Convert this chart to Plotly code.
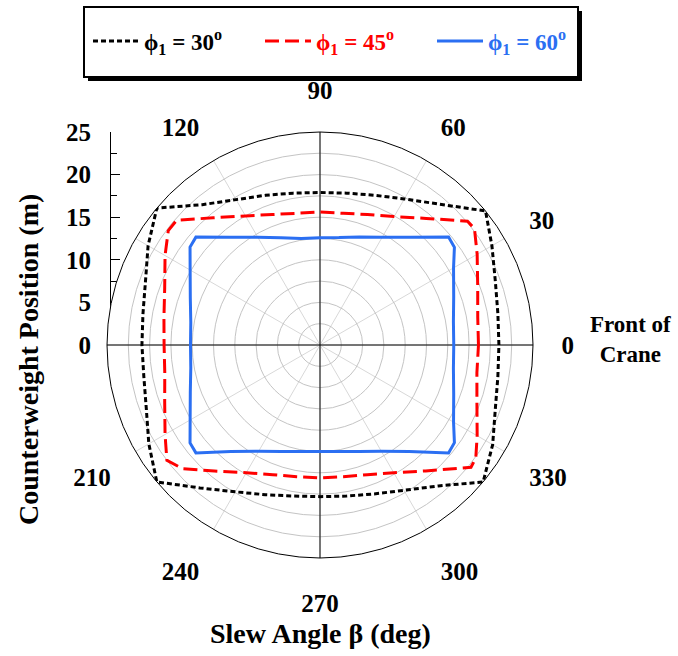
import plotly.graph_objects as go

# Counterweight position (m) versus slew angle (deg) for three boom angles phi_1
theta_30 = [0, 10, 20, 30, 39, 50, 60, 70, 80, 90, 100, 110, 120, 130, 140, 150, 160, 170, 180,
            190, 200, 210, 220, 230, 240, 250, 260, 270, 280, 290, 300, 310, 320, 330, 340, 350, 360]
r_30 = [21.0, 21.2, 21.9, 23.3, 25.0, 21.6, 19.8, 18.7, 18.1, 17.9, 18.1, 18.7, 19.7, 21.5, 25.0,
        23.3, 21.8, 21.1, 20.9, 21.0, 21.7, 23.2, 25.0, 21.9, 19.9, 18.7, 18.0, 17.8, 18.0, 18.6,
        19.7, 21.6, 25.0, 23.4, 21.9, 21.2, 21.0]

theta_45 = [0, 10, 20, 30, 37, 40, 50, 60, 70, 80, 90, 100, 110, 120, 130, 139, 143, 150, 160, 170,
            180, 190, 200, 210, 217, 222, 230, 240, 250, 260, 270, 280, 290, 300, 310, 321, 324, 330,
            340, 350, 360]
r_45 = [18.6, 18.8, 19.7, 21.3, 22.7, 22.6, 19.4, 17.4, 16.3, 15.7, 15.6, 15.7, 16.3, 17.5, 19.5,
        22.3, 22.3, 21.0, 19.4, 18.6, 18.3, 18.5, 19.4, 21.0, 22.5, 21.7, 19.3, 17.3, 16.2, 15.7,
        15.6, 15.7, 16.2, 17.3, 19.3, 22.8, 22.6, 21.3, 19.6, 18.7, 18.6]

theta_60 = [0, 10, 20, 30, 36, 40, 50, 60, 70, 80, 90, 100, 110, 120, 130, 139, 143, 150, 160, 170,
            180, 190, 200, 210, 217, 221, 230, 240, 250, 260, 270, 280, 290, 300, 310, 320, 324, 330,
            340, 350, 360]
r_60 = [15.7, 15.9, 16.7, 18.1, 19.5, 19.7, 16.5, 14.6, 13.5, 12.8, 12.6, 12.7, 13.4, 14.6, 16.5,
        19.3, 19.1, 17.6, 16.2, 15.4, 15.2, 15.4, 16.2, 17.6, 19.1, 19.3, 16.3, 14.4, 13.3, 12.7,
        12.5, 12.7, 13.3, 14.4, 16.3, 19.7, 19.5, 18.1, 16.7, 15.9, 15.7]

angle_ticks = [0, 30, 60, 90, 120, 150, 180, 210, 240, 270, 300, 330]
angle_labels = ["0", "30", "60", "90", "120", "", "", "210", "240", "270", "300", "330"]
r_max = 25

W, H = 678, 656
cx, cy, R = 320, 345, 213          # polar centre and radius in pixels
axis_x = 110                        # left counterweight axis position (px)
FONT = "Liberation Serif"

fig = go.Figure()

# black cross-hair axes through the centre
for th in ([0, 180], [90, 270]):
    fig.add_trace(go.Scatterpolar(theta=th, r=[r_max, r_max], mode="lines",
                                  line=dict(color="black", width=1),
                                  showlegend=False, hoverinfo="skip"))

series = [
    (theta_30, r_30, "black", "5px,3px", "ϕ<sub>1</sub> = 30<sup>o</sup>"),
    (theta_45, r_45, "#ff0000", "14px,6px", "ϕ<sub>1</sub> = 45<sup>o</sup>"),
    (theta_60, r_60, "#2b6ff2", "solid", "ϕ<sub>1</sub> = 60<sup>o</sup>"),
]
for th, rr, col, dash, label in series:
    fig.add_trace(go.Scatterpolar(
        theta=th, r=rr, mode="lines",
        line=dict(color=col, width=3, dash=dash),
        name=f'<span style="color:{col}">{label}</span>'))

# carrier trace for the linear counterweight axis
fig.add_trace(go.Scatter(x=[0], y=[0], mode="markers", marker=dict(opacity=0),
                         showlegend=False, hoverinfo="skip", xaxis="x", yaxis="y"))

fig.update_layout(
    width=W, height=H,
    margin=dict(l=0, r=0, t=0, b=0, autoexpand=False),
    paper_bgcolor="white", plot_bgcolor="rgba(0,0,0,0)",
    font=dict(family=FONT, size=25, color="black", weight="bold"),
    polar=dict(
        domain=dict(x=[(cx - R) / W, (cx + R) / W], y=[1 - (cy + R) / H, 1 - (cy - R) / H]),
        bgcolor="white",
        radialaxis=dict(range=[0, r_max], dtick=2.5, showticklabels=False, ticks="",
                        showline=False, gridcolor="#c4c4c4", gridwidth=1),
        angularaxis=dict(rotation=0, direction="counterclockwise",
                         tickmode="array", tickvals=angle_ticks, ticktext=angle_labels,
                         ticks="outside", ticklen=23, tickcolor="rgba(0,0,0,0)",
                         showline=True, linecolor="black", linewidth=1,
                         gridcolor="#d8d8d8", gridwidth=1,
                         tickfont=dict(family=FONT, size=25, weight="bold")),
    ),
    xaxis=dict(visible=False, domain=[axis_x / W, 0.5], range=[0, 1]),
    yaxis=dict(anchor="free", position=axis_x / W,
               domain=[1 - cy / H, 1 - (cy - R) / H], range=[0, r_max],
               dtick=5, ticks="inside", ticklen=9, tickwidth=1, tickcolor="black",
               minor=dict(ticks="inside", ticklen=6, dtick=2.5, tickcolor="black"),
               showline=True, linecolor="black", linewidth=1,
               showgrid=False, zeroline=False, ticklabelstandoff=14,
               tickfont=dict(family=FONT, size=25, weight="bold")),
    legend=dict(orientation="h", x=88 / W, xanchor="left", y=1 - 41 / H, yanchor="middle",
                bgcolor="rgba(0,0,0,0)", borderwidth=0, entrywidth=111, itemwidth=46,
                font=dict(family=FONT, size=23, weight="bold")),
    shapes=[
        dict(type="rect", xref="paper", yref="paper", layer="below",
             x0=88 / W, x1=582 / W, y0=1 - 81 / H, y1=1 - 11 / H,
             fillcolor="black", line=dict(width=0)),
        dict(type="rect", xref="paper", yref="paper", layer="below",
             x0=84 / W, x1=578 / W, y0=1 - 77 / H, y1=1 - 7 / H,
             fillcolor="white", line=dict(color="black", width=2)),
    ],
    annotations=[
        dict(text="Counterweight Position (m)", textangle=-90, xref="paper", yref="paper",
             x=28 / W, y=1 - 360 / H, xanchor="center", yanchor="middle", showarrow=False,
             font=dict(family=FONT, size=28, weight="bold")),
        dict(text="Slew Angle β (deg)", xref="paper", yref="paper",
             x=cx / W, y=1 - 633 / H, xanchor="center", yanchor="middle", showarrow=False,
             font=dict(family=FONT, size=28, weight="bold")),
        dict(text="Front of<br>Crane", xref="paper", yref="paper", align="center",
             x=630 / W, y=1 - 339 / H, xanchor="center", yanchor="middle", showarrow=False,
             font=dict(family=FONT, size=23, weight="bold")),
    ],
)

fig.write_html("out.html")
